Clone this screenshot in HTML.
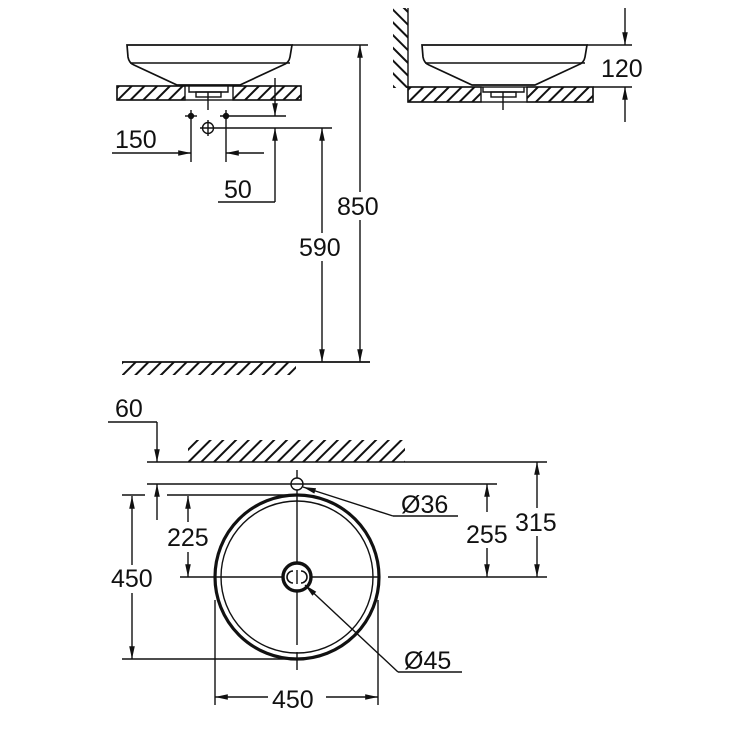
<!DOCTYPE html>
<html><head><meta charset="utf-8"><style>
html,body{margin:0;padding:0;background:#fff;}
svg{display:block;}
text{font-family:"Liberation Sans",sans-serif;font-size:25px;fill:#111;}
</style></head><body>
<svg width="740" height="740" viewBox="0 0 740 740" xmlns="http://www.w3.org/2000/svg">
<defs>
<pattern id="h" patternUnits="userSpaceOnUse" width="9" height="9" patternTransform="rotate(45)">
<line x1="1" y1="0" x2="1" y2="9" stroke="#111" stroke-width="2"/>
</pattern>
<pattern id="h2" patternUnits="userSpaceOnUse" width="9" height="9" patternTransform="rotate(-45)">
<line x1="1" y1="0" x2="1" y2="9" stroke="#111" stroke-width="2"/>
</pattern>
<marker id="b" viewBox="0 0 16 10" refX="16" refY="5" markerWidth="16" markerHeight="8" markerUnits="userSpaceOnUse" orient="auto-start-reverse">
<path d="M0,1.5 L16,5 L0,8.5 z" fill="#111"/>
</marker>
</defs>
<g stroke="#111" stroke-width="1.4" fill="none">
<path d="M127,45 L292,45 L290,57 Q289,63 283,65 L240,85 L177,85 L134,65 Q129,63 128,57 Z" stroke-width="1.7"/>
<line x1="130" y1="63" x2="290" y2="63"/>
<rect x="117" y="86" width="68" height="14" fill="url(#h)"/>
<rect x="233" y="86" width="68" height="14" fill="url(#h)"/>
<rect x="117" y="86" width="184" height="14"/>
<path d="M189,86 L189,92 L228,92 L228,86"/>
<rect x="196" y="92" width="25" height="5"/>
<line x1="208" y1="92" x2="208" y2="110"/>
<line x1="191" y1="110" x2="191" y2="162"/><line x1="185" y1="116" x2="197" y2="116"/>
<circle cx="191" cy="116" r="2.5" fill="#111"/>
<line x1="226" y1="110" x2="226" y2="162"/><line x1="220" y1="116" x2="286" y2="116"/>
<circle cx="226" cy="116" r="2.5" fill="#111"/>
<circle cx="208" cy="128" r="5.5"/>
<line x1="200" y1="128" x2="332" y2="128"/><line x1="208" y1="120" x2="208" y2="136"/>
<line x1="112" y1="153" x2="191" y2="153" marker-end="url(#b)"/>
<line x1="264" y1="153" x2="226" y2="153" marker-end="url(#b)"/>
<line x1="275" y1="78" x2="275" y2="116" marker-end="url(#b)"/>
<line x1="275" y1="202" x2="275" y2="128" marker-end="url(#b)"/>
<line x1="218" y1="202" x2="275" y2="202"/>
<line x1="292" y1="45" x2="368" y2="45"/>
<line x1="360" y1="45" x2="360" y2="362" marker-start="url(#b)" marker-end="url(#b)"/>
<line x1="322" y1="128" x2="322" y2="362" marker-start="url(#b)" marker-end="url(#b)"/>
<line x1="122" y1="362" x2="370" y2="362" stroke-width="1.7"/>
<rect x="122" y="362" width="174" height="13" fill="url(#h)" stroke="none"/>
<rect x="393" y="8" width="15" height="80" fill="url(#h2)" stroke="none"/>
<line x1="408" y1="8" x2="408" y2="87"/>
<path d="M422,45 L587,45 L585,57 Q584,63 578,65 L535,85 L472,85 L429,65 Q424,63 423,57 Z" stroke-width="1.7"/>
<line x1="425" y1="63" x2="585" y2="63"/>
<rect x="408" y="87" width="73" height="15" fill="url(#h)"/>
<rect x="527" y="87" width="66" height="15" fill="url(#h)"/>
<rect x="408" y="87" width="185" height="15"/>
<path d="M483,87 L483,92 L524,92 L524,87"/>
<rect x="491" y="92" width="25" height="5"/>
<line x1="503" y1="92" x2="503" y2="110"/>
<line x1="587" y1="45" x2="632" y2="45"/>
<line x1="593" y1="87" x2="632" y2="87"/>
<line x1="625" y1="8" x2="625" y2="45" marker-end="url(#b)"/>
<line x1="625" y1="122" x2="625" y2="87" marker-end="url(#b)"/>
<rect x="188" y="440" width="217" height="22" fill="url(#h)" stroke="none"/>
<line x1="147" y1="462" x2="547" y2="462"/>
<line x1="147" y1="484" x2="497" y2="484"/>
<line x1="122" y1="495" x2="145" y2="495"/>
<line x1="167" y1="495" x2="292" y2="495"/>
<line x1="108" y1="422" x2="157" y2="422"/>
<line x1="157" y1="422" x2="157" y2="462" marker-end="url(#b)"/>
<line x1="157" y1="520" x2="157" y2="484" marker-end="url(#b)"/>
<circle cx="297" cy="577" r="82" stroke-width="3.2"/>
<circle cx="297" cy="577" r="76"/>
<circle cx="297" cy="484" r="6"/>
<line x1="297" y1="470" x2="297" y2="478"/>
<line x1="297" y1="490" x2="297" y2="645"/>
<line x1="297" y1="652" x2="297" y2="670"/>
<line x1="180" y1="577" x2="378" y2="577"/>
<line x1="388" y1="577" x2="547" y2="577"/>
<circle cx="297" cy="577" r="14" stroke-width="3.4" fill="#fff"/>
<path d="M293,571 A6,6 0 0,0 293,583 M301,571 A6,6 0 0,1 301,583" stroke-width="1.6"/>
<line x1="297" y1="570" x2="297" y2="584"/>
<line x1="393" y1="516" x2="303" y2="487" marker-end="url(#b)"/>
<line x1="393" y1="516" x2="458" y2="516"/>
<line x1="398" y1="672" x2="305" y2="585" marker-end="url(#b)"/>
<line x1="398" y1="672" x2="462" y2="672"/>
<line x1="132" y1="496" x2="132" y2="659" marker-start="url(#b)" marker-end="url(#b)"/>
<line x1="122" y1="659" x2="297" y2="659"/>
<line x1="188" y1="496" x2="188" y2="522" marker-start="url(#b)"/>
<line x1="188" y1="552" x2="188" y2="577" marker-end="url(#b)"/>
<line x1="487" y1="484" x2="487" y2="512" marker-start="url(#b)"/>
<line x1="487" y1="546" x2="487" y2="577" marker-end="url(#b)"/>
<line x1="537" y1="462" x2="537" y2="577" marker-start="url(#b)" marker-end="url(#b)"/>
<line x1="215" y1="600" x2="215" y2="705"/>
<line x1="378" y1="600" x2="378" y2="705"/>
<line x1="215" y1="697" x2="268" y2="697" marker-start="url(#b)"/>
<line x1="326" y1="697" x2="378" y2="697" marker-end="url(#b)"/>
</g>
<g fill="#fff">
<rect x="337" y="192" width="45" height="28"/>
<rect x="299" y="233" width="45" height="28"/>
<rect x="110" y="565" width="45" height="28"/>
<rect x="514" y="508" width="45" height="28"/>
<rect x="465" y="520" width="45" height="28"/>
<rect x="166" y="523" width="45" height="28"/>
</g>
<g>
<text x="115" y="148">150</text>
<text x="224" y="198">50</text>
<text x="337" y="215">850</text>
<text x="299" y="256">590</text>
<text x="601" y="77">120</text>
<text x="115" y="417">60</text>
<text x="401" y="513">Ø36</text>
<text x="466" y="543">255</text>
<text x="515" y="531">315</text>
<text x="167" y="546">225</text>
<text x="111" y="587">450</text>
<text x="404" y="669">Ø45</text>
<text x="272" y="708">450</text>
</g>
</svg>
</body></html>
